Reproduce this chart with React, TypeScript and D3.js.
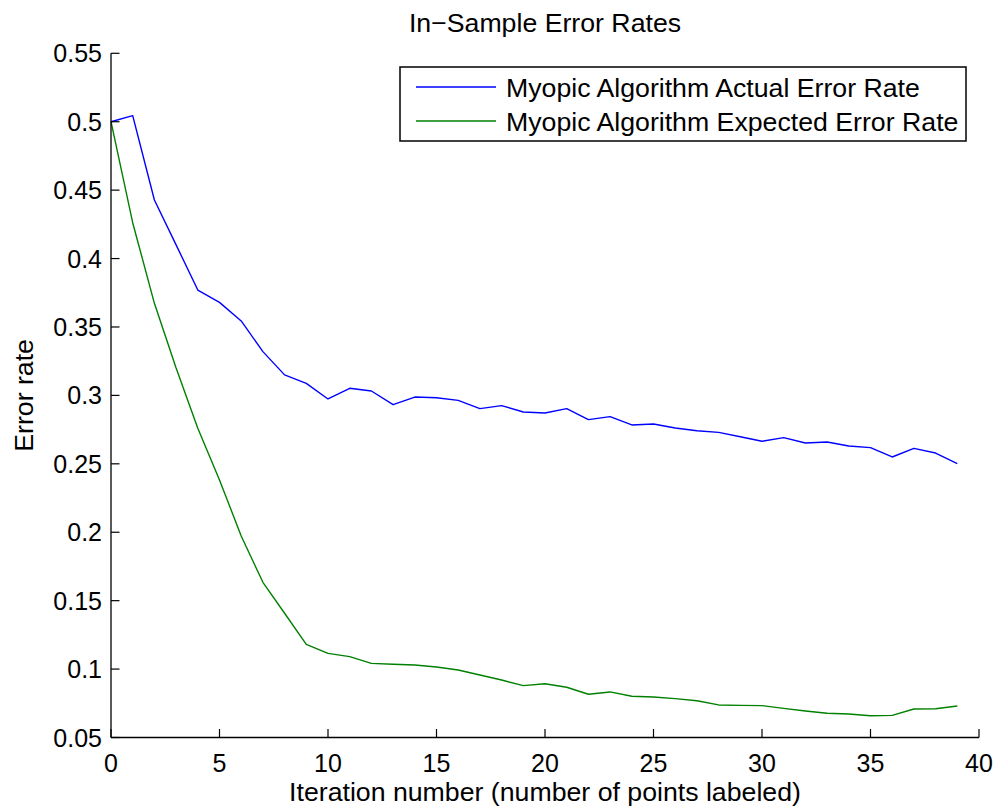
import React, { useEffect, useRef } from "react";
import * as d3 from "d3";

const iterations: number[] = d3.range(0, 40);

const actualError: number[] = [
  0.5, 0.5044, 0.4428, 0.41, 0.377, 0.368, 0.3544, 0.332, 0.315, 0.3088,
  0.2974, 0.3052, 0.3032, 0.2932, 0.2988, 0.2983, 0.2964, 0.2903, 0.2925, 0.2879,
  0.2871, 0.2903, 0.2823, 0.2845, 0.2784, 0.2791, 0.2762, 0.2742, 0.273, 0.2698,
  0.2665, 0.2691, 0.2652, 0.2659, 0.263, 0.2618, 0.255, 0.2613, 0.2579, 0.2501,
];

const expectedError: number[] = [
  0.5, 0.4262, 0.3673, 0.32, 0.276, 0.2382, 0.1973, 0.1634, 0.1408, 0.1181,
  0.1115, 0.1091, 0.1042, 0.1035, 0.103, 0.1015, 0.0993, 0.0957, 0.092, 0.0879,
  0.0893, 0.0867, 0.0816, 0.0833, 0.0801, 0.0796, 0.0784, 0.0769, 0.0738, 0.0735,
  0.0733, 0.0713, 0.0694, 0.0677, 0.0672, 0.0659, 0.0662, 0.0708, 0.071, 0.073,
];

const xTicks: number[] = [0, 5, 10, 15, 20, 25, 30, 35, 40];
const yTicks: number[] = [0.05, 0.1, 0.15, 0.2, 0.25, 0.3, 0.35, 0.4, 0.45, 0.5, 0.55];

const seriesNames: string[] = [
  "Myopic Algorithm Actual Error Rate",
  "Myopic Algorithm Expected Error Rate",
];
const seriesColors: string[] = ["#0000ff", "#008000"];

const W = 999;
const H = 812;
const FONT = "'Liberation Sans', Arial, Helvetica, sans-serif";
const LABEL_SIZE = 26.7;

export default function App() {
  const ref = useRef<SVGSVGElement | null>(null);

  useEffect(() => {
    const svg = d3.select(ref.current);
    svg.selectAll("*").remove();

    const left = 111, right = 979, top = 53.3, bottom = 737.5;
    const x = d3.scaleLinear().domain([0, 40]).range([left, right]);
    const y = d3.scaleLinear().domain([0.05, 0.55]).range([bottom, top]);

    svg.append("rect").attr("width", W).attr("height", H).attr("fill", "#fff");

    const series = [actualError, expectedError];
    const line = d3
      .line<number>()
      .x((_, i) => x(iterations[i]))
      .y((d) => y(d));
    series.forEach((s, k) => {
      svg
        .append("path")
        .datum(s)
        .attr("d", line)
        .attr("fill", "none")
        .attr("stroke", seriesColors[k])
        .attr("stroke-width", 1.4)
        .attr("stroke-linejoin", "round");
    });

    svg
      .append("line")
      .attr("x1", left).attr("x2", right)
      .attr("y1", bottom).attr("y2", bottom)
      .attr("stroke", "#000").attr("stroke-width", 1.3);
    svg
      .append("line")
      .attr("x1", left).attr("x2", left)
      .attr("y1", top).attr("y2", bottom)
      .attr("stroke", "#000").attr("stroke-width", 1.3);

    const tickLen = 8.5;
    xTicks.forEach((t) => {
      svg
        .append("line")
        .attr("x1", x(t)).attr("x2", x(t))
        .attr("y1", bottom).attr("y2", bottom - tickLen)
        .attr("stroke", "#000").attr("stroke-width", 1.2);
      svg
        .append("text")
        .attr("x", x(t)).attr("y", 772)
        .attr("text-anchor", "middle")
        .attr("font-family", FONT).attr("font-size", 25)
        .attr("fill", "#000")
        .text(String(t));
    });
    yTicks.forEach((t) => {
      svg
        .append("line")
        .attr("x1", left).attr("x2", left + tickLen)
        .attr("y1", y(t)).attr("y2", y(t))
        .attr("stroke", "#000").attr("stroke-width", 1.2);
      svg
        .append("text")
        .attr("x", 102).attr("y", y(t))
        .attr("dy", "0.36em")
        .attr("text-anchor", "end")
        .attr("font-family", FONT).attr("font-size", 25)
        .attr("fill", "#000")
        .text(d3.format("~g")(t));
    });

    svg
      .append("text")
      .attr("x", (left + right) / 2).attr("y", 32)
      .attr("text-anchor", "middle")
      .attr("font-family", FONT).attr("font-size", LABEL_SIZE)
      .attr("fill", "#000")
      .text("In\u2212Sample Error Rates");

    svg
      .append("text")
      .attr("x", (left + right) / 2).attr("y", 801)
      .attr("text-anchor", "middle")
      .attr("font-family", FONT).attr("font-size", LABEL_SIZE)
      .attr("fill", "#000")
      .text("Iteration number (number of points labeled)");

    svg
      .append("text")
      .attr("transform", `translate(33, ${(top + bottom) / 2}) rotate(-90)`)
      .attr("text-anchor", "middle")
      .attr("font-family", FONT).attr("font-size", LABEL_SIZE)
      .attr("fill", "#000")
      .text("Error rate");

    const lg = svg.append("g");
    lg.append("rect")
      .attr("x", 400).attr("y", 67)
      .attr("width", 566).attr("height", 74)
      .attr("fill", "#fff")
      .attr("stroke", "#000").attr("stroke-width", 1.5);
    const rowsY = [87, 121];
    seriesNames.forEach((name, k) => {
      lg.append("line")
        .attr("x1", 416).attr("x2", 496)
        .attr("y1", rowsY[k]).attr("y2", rowsY[k])
        .attr("stroke", seriesColors[k]).attr("stroke-width", 1.4);
      lg.append("text")
        .attr("x", 506).attr("y", rowsY[k])
        .attr("dy", "0.36em")
        .attr("font-family", FONT).attr("font-size", LABEL_SIZE)
        .attr("fill", "#000")
        .text(name);
    });
  }, []);

  return (
    <svg
      ref={ref}
      width={W}
      height={H}
      style={{ position: "absolute", left: 0, top: 0, display: "block" }}
    />
  );
}
